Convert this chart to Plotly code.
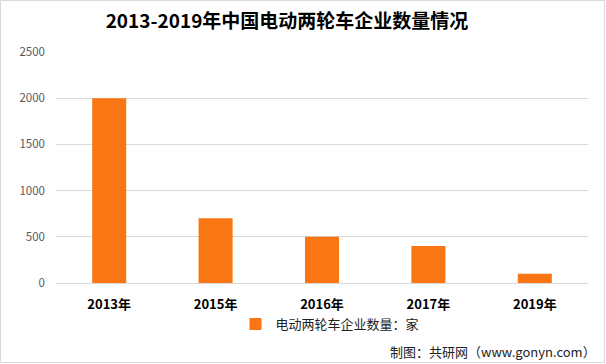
import plotly.graph_objects as go

categories = ["2013年", "2015年", "2016年", "2017年", "2019年"]
values = [2000, 700, 500, 400, 100]
series_name = "电动两轮车企业数量：家"
title_text = "2013-2019年中国电动两轮车企业数量情况"
source_text = "制图：共研网（www.gonyn.com）"

W, H = 606, 364
ml, mr, mt, mb = 56, 18, 52, 81
pw, ph = W - ml - mr, H - mt - mb

FONT = "Noto Sans CJK SC, Microsoft YaHei, sans-serif"

fig = go.Figure()
fig.add_trace(go.Bar(
    x=categories, y=values, name=series_name,
    marker=dict(color="#FA7614", line=dict(width=0)),
    width=0.32,
))

fig.update_layout(
    width=W, height=H,
    margin=dict(l=ml, r=mr, t=mt, b=mb),
    paper_bgcolor="white", plot_bgcolor="white",
    font=dict(family=FONT),
    title=dict(text="<b>" + title_text + "</b>", x=287 / W, xanchor="center",
               y=1 - 21 / H, yanchor="middle",
               font=dict(size=19, color="black", family=FONT)),
    showlegend=True,
    legend=dict(orientation="h", x=(330 - ml) / pw, xanchor="center",
                y=-(324 - 283) / ph, yanchor="middle",
                font=dict(size=13, color="#222222", family=FONT),
                itemwidth=30, bgcolor="rgba(0,0,0,0)"),
)

fig.update_xaxes(
    showgrid=False, showline=True, linecolor="#D9D9D9", linewidth=1,
    ticks="", tickfont=dict(size=13, color="black", family=FONT),
    tickprefix="<b>", ticksuffix="</b>", ticklabelstandoff=9,
)
fig.update_yaxes(
    range=[0, 2500], dtick=500, showgrid=True, gridcolor="#D9D9D9", gridwidth=1,
    zeroline=False, showline=False, ticks="",
    tickfont=dict(size=11.5, color="#595959", family=FONT),
    ticklabelstandoff=10,
)

fig.add_annotation(
    text=source_text, xref="paper", yref="paper",
    x=(598 - ml) / pw, xanchor="right",
    y=-(351 - 283) / ph, yanchor="middle",
    showarrow=False, font=dict(size=13, color="#222222", family=FONT),
)

# outer frame
fig.add_shape(
    type="rect", xref="paper", yref="paper",
    x0=-(ml - 0.5) / pw, x1=1 + (mr - 1.5) / pw,
    y0=-(mb - 1.5) / ph, y1=1 + (mt - 0.5) / ph,
    line=dict(color="#D9D9D9", width=1), fillcolor="rgba(0,0,0,0)", layer="below",
)

fig.write_html("out.html", config={"displayModeBar": False},
               post_script="document.body.style.margin='0';")
